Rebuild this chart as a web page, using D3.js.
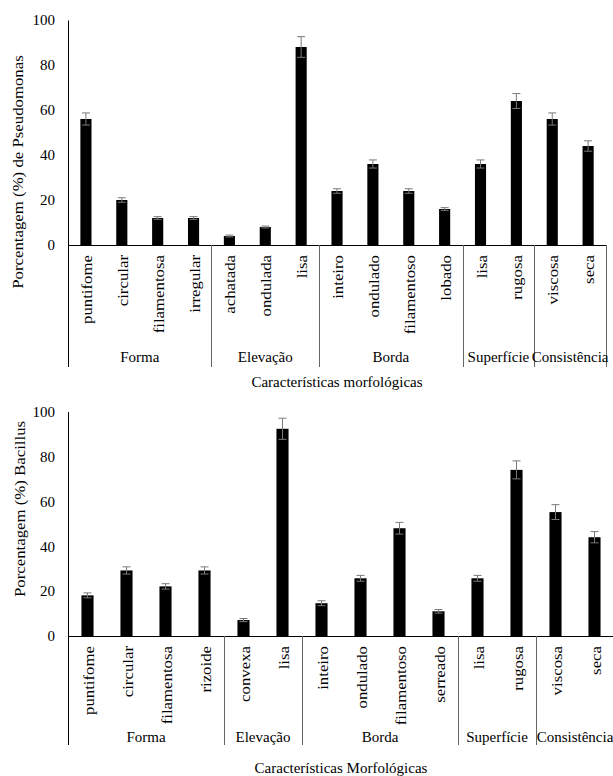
<!DOCTYPE html>
<html>
<head>
<meta charset="utf-8">
<script src="https://cdn.jsdelivr.net/npm/d3@7"></script>
<style>
  html, body { margin: 0; padding: 0; background: #fff; }
  svg { display: block; }
  svg text { font-family: "Liberation Serif", "Times New Roman", Times, Tinos, "DejaVu Serif", serif !important; fill: #000; }
</style>
</head>
<body>
<svg id="chart" width="613" height="776" font-family="Liberation Serif, serif"></svg>
<script>
// ---------- Data ----------
const yTicks = [0, 20, 40, 60, 80, 100];

// Chart 1: Pseudomonas
const pseudoCategories = ["puntifome", "circular", "filamentosa", "irregular",
  "achatada", "ondulada", "lisa",
  "inteiro", "ondulado", "filamentoso", "lobado",
  "lisa", "rugosa",
  "viscosa", "seca"];
const pseudoValues = [56, 20, 12, 12, 4, 8, 88, 24, 36, 24, 16, 36, 64, 56, 44];
const pseudoErrors = [2.7, 1, 0.6, 0.6, 0.4, 0.4, 4.6, 1, 1.8, 1, 0.6, 1.8, 3.3, 2.7, 2.3];
const pseudoGroups = ["Forma", "Elevação", "Borda", "Superfície", "Consistência"];
const pseudoGroupSizes = [4, 3, 4, 2, 2];
const pseudoYTitle = "Porcentagem (%) de Pseudomonas";
const pseudoXTitle = "Características morfológicas";

// Chart 2: Bacillus
const bacCategories = ["puntifome", "circular", "filamentosa", "rizoide",
  "convexa", "lisa",
  "inteiro", "ondulado", "filamentoso", "serreado",
  "lisa", "rugosa",
  "viscosa", "seca"];
const bacValues = [18.1, 29.2, 22.1, 29.2, 7.1, 92.3, 14.6, 25.7, 48, 11, 25.7, 74, 55.2, 44];
const bacErrors = [1.1, 1.6, 1.2, 1.6, 0.7, 4.7, 1.1, 1.3, 2.6, 0.8, 1.3, 4, 3.3, 2.5];
const bacGroups = ["Forma", "Elevação", "Borda", "Superfície", "Consistência"];
const bacGroupSizes = [4, 2, 4, 2, 2];
const bacYTitle = "Porcentagem (%) Bacillus";
const bacXTitle = "Características Morfológicas";

// ---------- Drawing ----------
const FONT = '"Liberation Serif", "Times New Roman", Times, Tinos, "DejaVu Serif", serif';
const svg = d3.select("#chart");

function drawChart(cfg) {
  const g = svg.append("g").attr("font-family", FONT);
  const n = cfg.categories.length;
  const idx = d3.range(n);
  const x = d3.scaleBand().domain(idx).range([cfg.left, cfg.left + cfg.step * n]).paddingInner(0).paddingOuter(0);
  const y = d3.scaleLinear().domain([0, 100]).range([cfg.base, cfg.top]);
  const barW = x.bandwidth() * 0.31;

  // y axis (no ticks)
  const yAxis = d3.axisLeft(y).tickValues(yTicks).tickSize(0).tickPadding(13).tickFormat(d3.format("d"));
  const ya = g.append("g").attr("transform", `translate(${cfg.left},0)`).call(yAxis);
  ya.attr("font-family", FONT);
  ya.select(".domain").attr("stroke", "#000").attr("stroke-width", 1);
  ya.selectAll("text").style("font-family", FONT).style("font-size", "15px").attr("fill", "#000");

  // bars
  g.selectAll("rect.bar").data(idx).enter().append("rect")
    .attr("x", i => x(i) + (x.bandwidth() - barW) / 2)
    .attr("y", i => y(cfg.values[i]))
    .attr("width", barW)
    .attr("height", i => y(0) - y(cfg.values[i]))
    .attr("fill", "#000");

  // error bars
  const cap = 4;
  const eb = g.selectAll("g.err").data(idx).enter().append("g").attr("stroke", "#7a7a7a").attr("stroke-width", 1);
  eb.append("line")
    .attr("x1", i => x(i) + x.bandwidth() / 2).attr("x2", i => x(i) + x.bandwidth() / 2)
    .attr("y1", i => y(cfg.values[i] + cfg.errors[i])).attr("y2", i => y(cfg.values[i] - cfg.errors[i]));
  eb.append("line")
    .attr("x1", i => x(i) + x.bandwidth() / 2 - cap).attr("x2", i => x(i) + x.bandwidth() / 2 + cap)
    .attr("y1", i => y(cfg.values[i] + cfg.errors[i])).attr("y2", i => y(cfg.values[i] + cfg.errors[i]));
  eb.append("line")
    .attr("x1", i => x(i) + x.bandwidth() / 2 - cap).attr("x2", i => x(i) + x.bandwidth() / 2 + cap)
    .attr("y1", i => y(cfg.values[i] - cfg.errors[i])).attr("y2", i => y(cfg.values[i] - cfg.errors[i]));

  // x axis baseline with category labels
  const xAxis = d3.axisBottom(x).tickSize(0).tickFormat(i => cfg.categories[i]);
  const xa = g.append("g").attr("transform", `translate(0,${cfg.base})`).call(xAxis);
  xa.attr("font-family", FONT);
  xa.select(".domain").attr("stroke", "#000").attr("stroke-width", 1);
  xa.selectAll("text")
    .style("font-family", FONT).style("font-size", "15px").attr("fill", "#000")
    .attr("text-anchor", "end")
    .attr("y", 0).attr("dy", "0.4em")
    .attr("transform", "translate(0,10) rotate(-90) scale(1.12,1)");

  // group separators & labels
  let start = 0;
  const bounds = [0];
  cfg.groupSizes.forEach(s => { start += s; bounds.push(start); });
  bounds.forEach(b => {
    const xx = b < n ? x(b) : x(n - 1) + x.bandwidth();
    g.append("line")
      .attr("x1", Math.round(xx) + 0.5).attr("x2", Math.round(xx) + 0.5)
      .attr("y1", cfg.base).attr("y2", cfg.sepEnd)
      .attr("stroke", b === 0 ? "#000" : "#666").attr("stroke-width", 1);
  });
  cfg.groups.forEach((name, k) => {
    const a = x(bounds[k]);
    const e = bounds[k + 1] < n ? x(bounds[k + 1]) : x(n - 1) + x.bandwidth();
    g.append("text")
      .attr("x", (a + e) / 2).attr("y", cfg.groupY)
      .attr("text-anchor", "middle")
      .style("font-family", FONT).style("font-size", "15px")
      .text(name);
  });

  // x title
  g.append("text")
    .attr("x", cfg.left + cfg.step * n / 2).attr("y", cfg.xTitleY)
    .attr("text-anchor", "middle").style("font-family", FONT).style("font-size", "15px")
    .text(cfg.xTitle);

  // y title
  g.append("text")
    .attr("transform", `translate(${cfg.yTitleX},${cfg.yTitleCenter}) rotate(-90) scale(1.12,1)`)
    .attr("text-anchor", "middle").style("font-family", FONT).style("font-size", "15px")
    .text(cfg.yTitle);
}

drawChart({
  categories: pseudoCategories, values: pseudoValues, errors: pseudoErrors,
  groups: pseudoGroups, groupSizes: pseudoGroupSizes,
  xTitle: pseudoXTitle, yTitle: pseudoYTitle,
  left: 68, step: 35.87, top: 20, base: 245, sepEnd: 367,
  groupY: 362, xTitleY: 387, yTitleX: 23, yTitleCenter: 172
});

drawChart({
  categories: bacCategories, values: bacValues, errors: bacErrors,
  groups: bacGroups, groupSizes: bacGroupSizes,
  xTitle: bacXTitle, yTitle: bacYTitle,
  left: 68, step: 39.0, top: 411.5, base: 636, sepEnd: 745,
  groupY: 742, xTitleY: 773, yTitleX: 25, yTitleCenter: 509
});
</script>
</body>
</html>
